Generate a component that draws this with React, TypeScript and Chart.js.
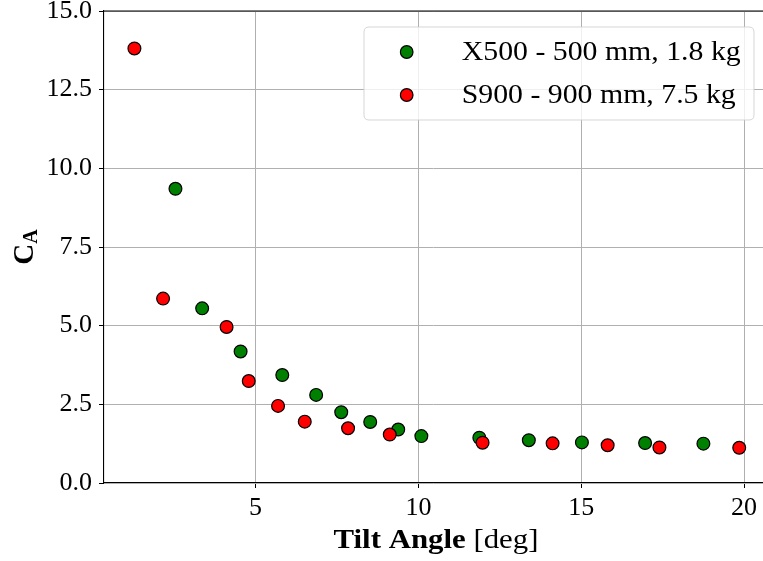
import React, { useEffect, useRef } from "react";
import { Chart, registerables } from "chart.js";

Chart.register(...registerables);

const greenLabel = "X500 - 500 mm, 1.8 kg";
const greenX = [2.54, 3.36, 4.54, 5.82, 6.86, 7.63, 8.52, 9.38, 10.09, 11.87, 13.39, 15.02, 16.96, 18.75];
const greenY = [9.35, 5.55, 4.18, 3.43, 2.8, 2.25, 1.94, 1.7, 1.49, 1.44, 1.36, 1.29, 1.27, 1.25];

const redLabel = "S900 - 900 mm, 7.5 kg";
const redX = [1.28, 2.16, 4.11, 4.79, 5.69, 6.51, 7.84, 9.12, 11.97, 14.12, 15.81, 17.4, 19.85];
const redY = [13.81, 5.86, 4.96, 3.24, 2.45, 1.95, 1.74, 1.54, 1.28, 1.26, 1.2, 1.13, 1.12];

const xTicks = [5, 10, 15, 20];
const yTicks = [0, 2.5, 5, 7.5, 10, 12.5, 15];

const FONT = "'Liberation Serif', 'Times New Roman', serif";
const W = 763;
const H = 561;

const toPoints = (xs: number[], ys: number[]) => xs.map((x, i) => ({ x, y: ys[i] }));

const overlayPlugin = {
  id: "overlay",
  afterDraw(chart: any) {
    const ctx = chart.ctx;
    const a = chart.chartArea;
    ctx.save();
    // top spine
    ctx.strokeStyle = "#000";
    ctx.lineWidth = 1.1;
    ctx.beginPath();
    ctx.moveTo(a.left, a.top);
    ctx.lineTo(a.right, a.top);
    ctx.stroke();

    // legend
    const bx = 364, by = 27, bw = 390, bh = 93, r = 5;
    ctx.beginPath();
    ctx.moveTo(bx + r, by);
    ctx.lineTo(bx + bw - r, by);
    ctx.quadraticCurveTo(bx + bw, by, bx + bw, by + r);
    ctx.lineTo(bx + bw, by + bh - r);
    ctx.quadraticCurveTo(bx + bw, by + bh, bx + bw - r, by + bh);
    ctx.lineTo(bx + r, by + bh);
    ctx.quadraticCurveTo(bx, by + bh, bx, by + bh - r);
    ctx.lineTo(bx, by + r);
    ctx.quadraticCurveTo(bx, by, bx + r, by);
    ctx.closePath();
    ctx.fillStyle = "rgba(255,255,255,0.8)";
    ctx.fill();
    ctx.strokeStyle = "rgba(204,204,204,0.8)";
    ctx.lineWidth = 1;
    ctx.stroke();

    const items = chart.data.datasets
      .map((d: any) => d)
      .sort((p: any, q: any) => p.legendIndex - q.legendIndex);
    ctx.font = `27px ${FONT}`;
    const legW = ctx.measureText(items[0].label).width;
    const legScale = 279 / legW;
    items.forEach((d: any, i: number) => {
      const cy = 52 + i * 43;
      ctx.beginPath();
      ctx.arc(406.7, cy, 6.3, 0, Math.PI * 2);
      ctx.fillStyle = d.backgroundColor;
      ctx.fill();
      ctx.strokeStyle = "#000";
      ctx.lineWidth = 1.2;
      ctx.stroke();
      ctx.fillStyle = "#000";
      ctx.font = `27px ${FONT}`;
      ctx.textBaseline = "middle";
      ctx.textAlign = "left";
      ctx.save();
      ctx.translate(461.7, cy + 1);
      ctx.scale(legScale, 1);
      ctx.fillText(d.label, 0, 0);
      ctx.restore();
    });

    // x title
    ctx.textBaseline = "alphabetic";
    ctx.textAlign = "left";
    const boldPart = "Tilt Angle";
    const normPart = " [deg]";
    ctx.font = `bold 27px ${FONT}`;
    const w1 = ctx.measureText(boldPart).width;
    ctx.font = `27px ${FONT}`;
    const w2 = ctx.measureText(normPart).width;
    const titleScale = 205 / (w1 + w2);
    ctx.save();
    ctx.translate(436, 548);
    ctx.scale(titleScale, 1);
    const sx = -(w1 + w2) / 2;
    ctx.font = `bold 27px ${FONT}`;
    ctx.fillText(boldPart, sx, 0);
    ctx.font = `27px ${FONT}`;
    ctx.fillText(normPart, sx + w1, 0);
    ctx.restore();

    // y title C_A
    ctx.translate(33, (a.top + a.bottom) / 2);
    ctx.rotate(-Math.PI / 2);
    ctx.font = `bold 29px ${FONT}`;
    const wc = ctx.measureText("C").width;
    ctx.font = `bold 20px ${FONT}`;
    const wa = ctx.measureText("A").width;
    const start = -(wc + wa) / 2;
    ctx.font = `bold 29px ${FONT}`;
    ctx.fillText("C", start, 0);
    ctx.font = `bold 20px ${FONT}`;
    ctx.fillText("A", start + wc, 4);
    ctx.restore();
  },
};

export default function App() {
  const ref = useRef<HTMLCanvasElement | null>(null);
  useEffect(() => {
    if (!ref.current) return;
    const chart = new Chart(ref.current, {
      type: "scatter",
      data: {
        datasets: [
          {
            label: greenLabel,
            data: toPoints(greenX, greenY),
            backgroundColor: "#008000",
            borderColor: "#000",
            borderWidth: 1.2,
            pointRadius: 6.4,
            order: 1,
            legendIndex: 0,
          } as any,
          {
            label: redLabel,
            data: toPoints(redX, redY),
            backgroundColor: "#ff0000",
            borderColor: "#000",
            borderWidth: 1.2,
            pointRadius: 6.4,
            order: 0,
            legendIndex: 1,
          } as any,
        ],
      },
      options: {
        animation: false,
        responsive: false,
        devicePixelRatio: 1,
        layout: { autoPadding: false, padding: { left: 0, top: 11, right: 0, bottom: 0 } },
        plugins: {
          legend: { display: false },
          tooltip: { enabled: false },
        },
        scales: {
          x: {
            type: "linear",
            min: 0.346,
            max: 20.58,
            afterBuildTicks: (s: any) => {
              s.ticks = xTicks.map((v) => ({ value: v }));
            },
            afterFit: (s: any) => {
              s.height = 78;
              s.paddingLeft = 0;
              s.paddingRight = 0;
            },
            grid: {
              color: "#b0b0b0",
              lineWidth: 1,
              tickColor: "#000",
              tickLength: 5,
              tickWidth: 1,
            },
            border: { color: "#000", width: 1.1 },
            ticks: {
              color: "#000",
              font: { family: FONT, size: 26 },
              padding: 5,
              maxRotation: 0,
              callback: (v: any) => String(v),
            },
          },
          y: {
            type: "linear",
            min: 0,
            max: 15,
            afterBuildTicks: (s: any) => {
              s.ticks = yTicks.map((v) => ({ value: v }));
            },
            afterFit: (s: any) => {
              s.width = 104;
              s.paddingTop = 0;
              s.paddingBottom = 0;
            },
            grid: {
              color: "#b0b0b0",
              lineWidth: 1,
              tickColor: "#000",
              tickLength: 5,
              tickWidth: 1,
            },
            border: { color: "#000", width: 1.1 },
            ticks: {
              color: "#000",
              font: { family: FONT, size: 26 },
              padding: 7,
              callback: (v: any) => Number(v).toFixed(1),
            },
          },
        },
      } as any,
      plugins: [overlayPlugin],
    });
    return () => chart.destroy();
  }, []);
  return (
    <div style={{ position: "fixed", left: 0, top: 0, width: W, height: H, background: "#fff" }}>
      <canvas ref={ref} width={W} height={H} style={{ display: "block" }} />
    </div>
  );
}
